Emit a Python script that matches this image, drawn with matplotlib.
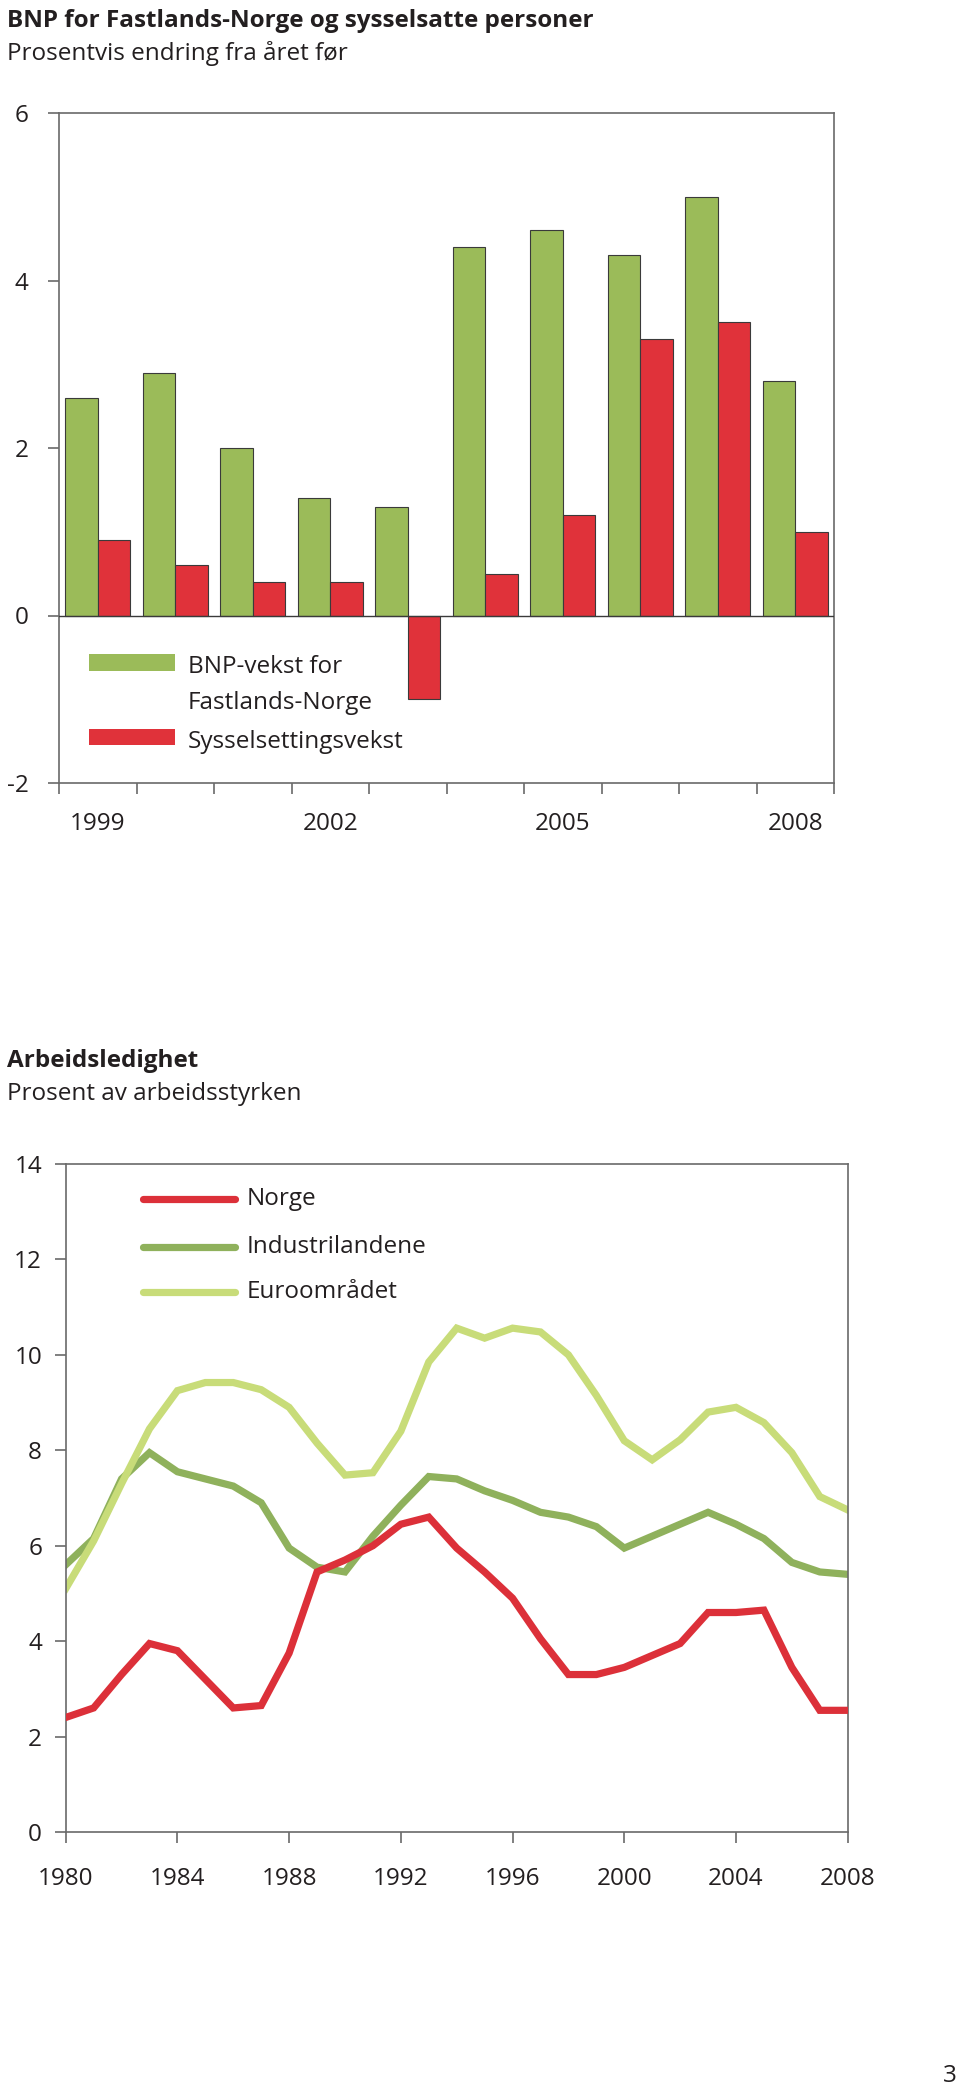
import numpy as np
import matplotlib.pyplot as plt
from matplotlib.patches import Rectangle

plt.rcParams['font.family'] = ['Open Sans', 'DejaVu Sans']

# Data - top chart
years_bar = [1999, 2000, 2001, 2002, 2003, 2004, 2005, 2006, 2007, 2008]
bnp_vekst = [2.6, 2.9, 2.0, 1.4, 1.3, 4.4, 4.6, 4.3, 5.0, 2.8]
syss_vekst = [0.9, 0.6, 0.4, 0.4, -1.0, 0.5, 1.2, 3.3, 3.5, 1.0]
bar_ticklabels = ['1999', '2002', '2005', '2008']

# Data - bottom chart
years_line = list(range(1980, 2009))
norge = [2.4, 2.6, 3.3, 3.95, 3.8, 3.2, 2.6, 2.65, 3.75, 5.45, 5.7, 6.0, 6.45, 6.6, 5.95, 5.45,
         4.9, 4.05, 3.3, 3.3, 3.45, 3.7, 3.95, 4.6, 4.6, 4.65, 3.45, 2.55, 2.55]
industri = [5.6, 6.15, 7.4, 7.95, 7.55, 7.4, 7.25, 6.9, 5.95, 5.55, 5.45, 6.2, 6.85, 7.45, 7.4, 7.15,
            6.95, 6.7, 6.6, 6.4, 5.95, 6.2, 6.45, 6.7, 6.45, 6.15, 5.65, 5.45, 5.4]
euro = [5.1, 6.1, 7.3, 8.45, 9.25, 9.42, 9.42, 9.27, 8.9, 8.15, 7.48, 7.53, 8.4, 9.85, 10.56, 10.35,
        10.56, 10.48, 10.0, 9.15, 8.2, 7.8, 8.22, 8.8, 8.9, 8.58, 7.95, 7.03, 6.75]

GREEN_BAR = '#9bbb59'
RED_BAR = '#e0323a'
RED_LINE = '#dc3039'
DARK_GREEN = '#8fb15c'
LIGHT_GREEN = '#c8dc79'
SPINE = '#6a6a6a'
TXT = '#231f20'
FS = 17.5

fig = plt.figure(figsize=(9.6, 20.87), dpi=100)
H = 2087.0

def yf(px):
    return 1 - px / H

# Titles
fig.text(7 / 960, yf(27), 'BNP for Fastlands-Norge og sysselsatte personer', fontsize=FS,
         fontweight='bold', color=TXT, va='baseline')
fig.text(7 / 960, yf(60), 'Prosentvis endring fra året før', fontsize=FS, color=TXT, va='baseline')
fig.text(7 / 960, yf(1067), 'Arbeidsledighet', fontsize=FS, fontweight='bold', color=TXT, va='baseline')
fig.text(7 / 960, yf(1100), 'Prosent av arbeidsstyrken', fontsize=FS, color=TXT, va='baseline')
fig.text(957 / 960, yf(2082), '3', fontsize=FS, color=TXT, va='baseline', ha='right')

# ---- Top: bar chart
ax1 = fig.add_axes([59 / 960, yf(783), 775 / 960, 670 / H])
x = np.arange(len(years_bar))
w = 0.42
ax1.bar(x - w / 2, bnp_vekst, w, color=GREEN_BAR, edgecolor='#3a3a3a', linewidth=0.8, zorder=2)
ax1.bar(x + w / 2, syss_vekst, w, color=RED_BAR, edgecolor='#3a3a3a', linewidth=0.8, zorder=2)
ax1.axhline(0, color='#3a3a3a', linewidth=1.0, zorder=3)
ax1.set_xlim(-0.5, len(years_bar) - 0.5)
ax1.set_ylim(-2, 6)
ax1.set_yticks([-2, 0, 2, 4, 6])
ax1.set_yticklabels(['-2', '0', '2', '4', '6'])
ax1.set_xticks(np.arange(-0.5, len(years_bar), 1.0), minor=True)
ax1.set_xticks([years_bar.index(int(t)) for t in bar_ticklabels])
ax1.set_xticklabels(bar_ticklabels)
ax1.tick_params(axis='x', which='major', length=0, pad=21, labelsize=FS, labelcolor=TXT)
ax1.tick_params(axis='x', which='minor', length=8, width=1.2, color=SPINE, direction='out')
ax1.tick_params(axis='y', length=8, width=1.2, color=SPINE, direction='out', pad=14,
                labelsize=FS, labelcolor=TXT)
for s in ax1.spines.values():
    s.set_color(SPINE)
    s.set_linewidth(1.2)

# legend (manual)
ax1.add_patch(Rectangle((0.0387, 0.1672), 0.111, 0.0253, transform=ax1.transAxes,
                        facecolor=GREEN_BAR, edgecolor='none'))
ax1.add_patch(Rectangle((0.0387, 0.0567), 0.111, 0.0239, transform=ax1.transAxes,
                        facecolor=RED_BAR, edgecolor='none'))
ax1.text(0.1665, 0.1736, 'BNP-vekst for', transform=ax1.transAxes, fontsize=FS, color=TXT, va='center')
ax1.text(0.1665, 0.119, 'Fastlands-Norge', transform=ax1.transAxes, fontsize=FS, color=TXT, va='center')
ax1.text(0.1665, 0.0617, 'Sysselsettingsvekst', transform=ax1.transAxes, fontsize=FS, color=TXT, va='center')

# ---- Bottom: line chart
ax2 = fig.add_axes([65.7 / 960, yf(1832), 782 / 960, 668 / H])
lw = 5.2
ax2.plot(years_line, norge, color=RED_LINE, linewidth=lw, solid_joinstyle='miter', zorder=3)
ax2.plot(years_line, industri, color=DARK_GREEN, linewidth=lw, solid_joinstyle='miter', zorder=2)
ax2.plot(years_line, euro, color=LIGHT_GREEN, linewidth=lw, solid_joinstyle='miter', zorder=2)
ax2.set_xlim(1980, 2008)
ax2.set_ylim(0, 14)
ax2.set_xticks(range(1980, 2009, 4))
ax2.set_yticks(range(0, 15, 2))
ax2.tick_params(axis='x', length=8, width=1.2, color=SPINE, direction='out', pad=17,
                labelsize=FS, labelcolor=TXT)
ax2.tick_params(axis='y', length=8, width=1.2, color=SPINE, direction='out', pad=9,
                labelsize=FS, labelcolor=TXT)
for s in ax2.spines.values():
    s.set_color(SPINE)
    s.set_linewidth(1.2)

leg = [('Norge', RED_LINE, 0.9476), ('Industrilandene', DARK_GREEN, 0.8762),
       ('Euroområdet', LIGHT_GREEN, 0.8088)]
for name, col, yy in leg:
    ax2.plot([0.0989, 0.2165], [yy, yy], transform=ax2.transAxes, color=col, linewidth=lw,
             solid_capstyle='round')
    ax2.text(0.2315, yy, name, transform=ax2.transAxes, fontsize=FS, color=TXT, va='center')

fig.savefig('out.png', dpi=100)
